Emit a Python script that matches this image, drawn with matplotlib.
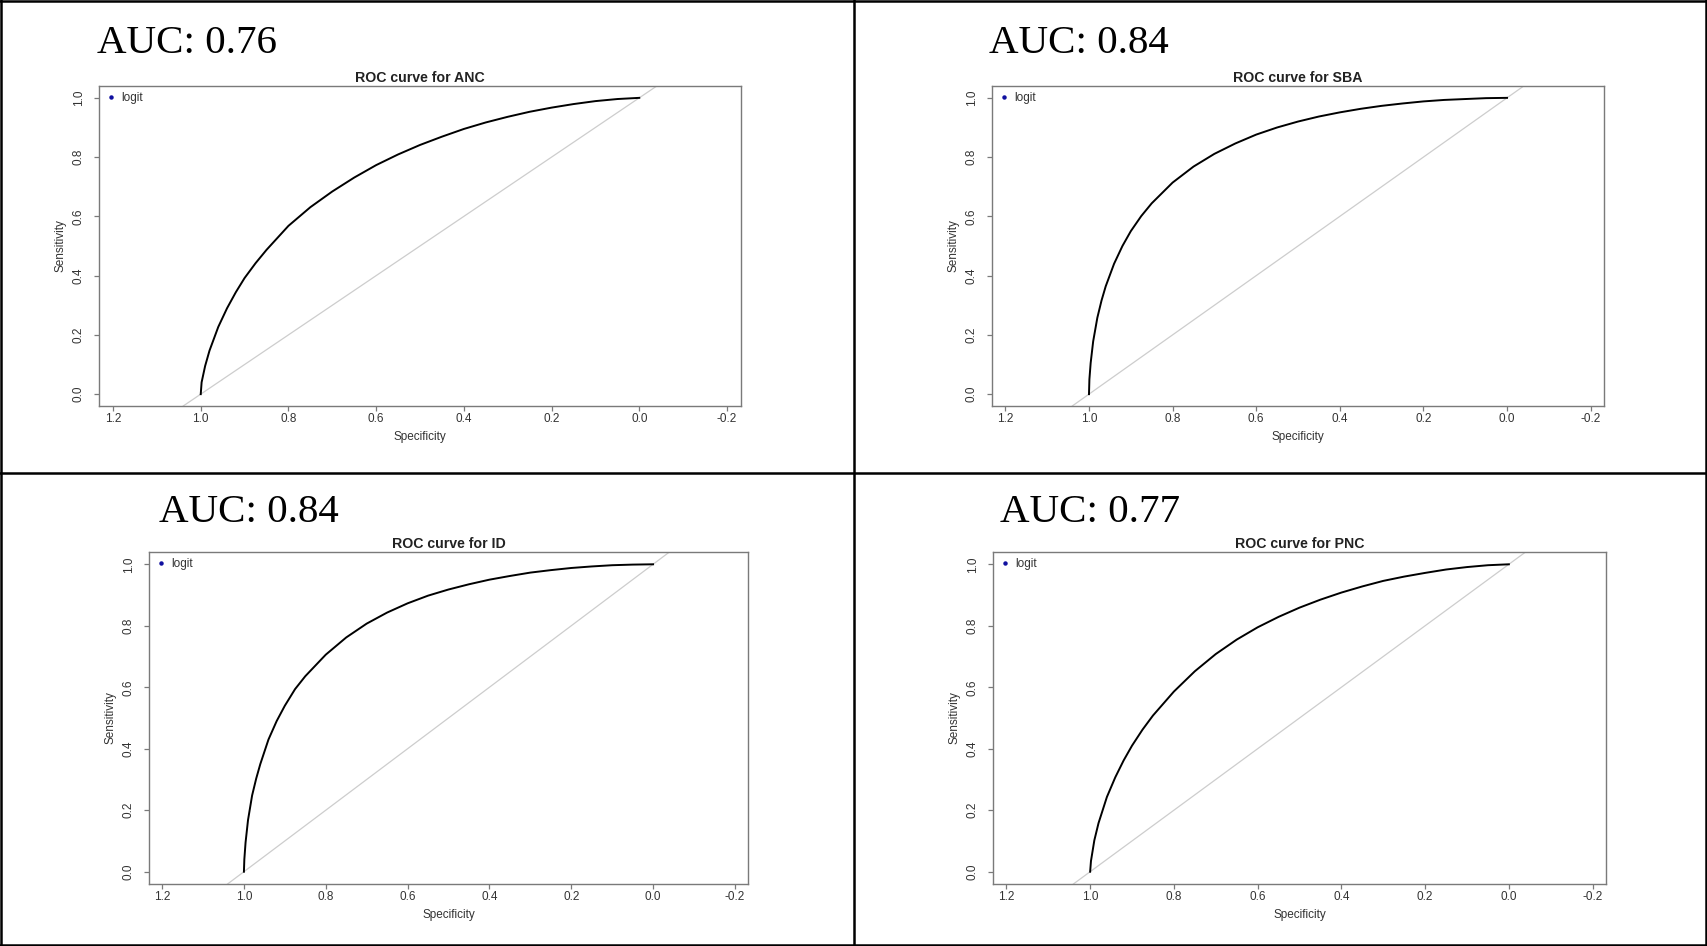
import matplotlib
matplotlib.use("Agg")
import matplotlib.pyplot as plt
from matplotlib.lines import Line2D

plt.rcParams["font.family"] = ["Liberation Sans", "DejaVu Sans"]
plt.rcParams["axes.unicode_minus"] = False

# values (specificity -> sensitivity)
spec_anc = [1.0, 0.998, 0.99, 0.98, 0.96, 0.94, 0.92, 0.90, 0.875, 0.85, 0.80,
            0.75, 0.70, 0.65, 0.60, 0.55, 0.50, 0.45, 0.40, 0.35, 0.30, 0.25,
            0.20, 0.15, 0.10, 0.05, 0.0]
sens_anc = [0.0, 0.04, 0.095, 0.147, 0.227, 0.29, 0.344, 0.392, 0.442, 0.487, 0.568,
            0.631, 0.684, 0.731, 0.773, 0.809, 0.841, 0.869, 0.895, 0.917, 0.936, 0.953,
            0.967, 0.979, 0.989, 0.996, 1.0]

spec_sba = [1.0, 0.999, 0.996, 0.99, 0.98, 0.97, 0.96, 0.94, 0.92, 0.90, 0.875,
            0.85, 0.80, 0.75, 0.70, 0.65, 0.60, 0.55, 0.50, 0.45, 0.40, 0.35,
            0.30, 0.25, 0.20, 0.15, 0.10, 0.05, 0.0]
sens_sba = [0.0, 0.05, 0.105, 0.178, 0.258, 0.316, 0.364, 0.44, 0.50, 0.55, 0.601,
            0.644, 0.714, 0.768, 0.811, 0.846, 0.876, 0.90, 0.92, 0.937, 0.951, 0.963,
            0.973, 0.981, 0.988, 0.993, 0.996, 0.999, 1.0]

spec_id = [1.0, 0.999, 0.996, 0.99, 0.98, 0.97, 0.96, 0.94, 0.92, 0.90, 0.875,
           0.85, 0.80, 0.75, 0.70, 0.65, 0.60, 0.55, 0.50, 0.45, 0.40, 0.35,
           0.30, 0.25, 0.20, 0.15, 0.10, 0.05, 0.0]
sens_id = [0.0, 0.04, 0.095, 0.168, 0.248, 0.303, 0.35, 0.43, 0.49, 0.54, 0.594,
           0.636, 0.706, 0.762, 0.807, 0.843, 0.873, 0.898, 0.918, 0.935, 0.95, 0.962,
           0.973, 0.981, 0.988, 0.993, 0.997, 0.999, 1.0]

spec_pnc = [1.0, 0.998, 0.99, 0.98, 0.96, 0.94, 0.92, 0.90, 0.875, 0.85, 0.80,
            0.75, 0.70, 0.65, 0.60, 0.55, 0.50, 0.45, 0.40, 0.35, 0.30, 0.25,
            0.20, 0.15, 0.10, 0.05, 0.0]
sens_pnc = [0.0, 0.035, 0.102, 0.158, 0.243, 0.307, 0.362, 0.41, 0.462, 0.508, 0.586,
            0.652, 0.708, 0.755, 0.795, 0.829, 0.859, 0.885, 0.908, 0.928, 0.946, 0.96,
            0.972, 0.983, 0.991, 0.997, 1.0]

titles = ["ROC curve for ANC", "ROC curve for SBA", "ROC curve for ID", "ROC curve for PNC"]
auc_labels = ["AUC: 0.76", "AUC: 0.84", "AUC: 0.84", "AUC: 0.77"]
curves = [(spec_anc, sens_anc), (spec_sba, sens_sba), (spec_id, sens_id), (spec_pnc, sens_pnc)]

x_ticks = [1.2, 1.0, 0.8, 0.6, 0.4, 0.2, 0.0, -0.2]
y_ticks = [0.0, 0.2, 0.4, 0.6, 0.8, 1.0]

W, H = 1708, 946
# axes boxes in pixels: left, top, right, bottom
boxes = [(99, 86, 741, 406), (992, 86, 1604, 406),
         (149, 552, 748, 884), (993, 552, 1606, 884)]
auc_pos = [(97, 53), (989, 53), (159, 522.5), (1000, 522.5)]

fig = plt.figure(figsize=(W / 100, H / 100), dpi=100)

grey = "#7a7a7a"
txt = "#333333"

for i in range(4):
    l, t, r, b = boxes[i]
    ax = fig.add_axes([l / W, 1 - b / H, (r - l) / W, (b - t) / H])
    spec, sens = curves[i]
    ax.axline((1, 0), (0, 1), color="#cdcdcd", lw=0.9, zorder=1)
    ax.plot(spec, sens, color="black", lw=1.4, zorder=3)
    ax.set_xlim(1.232, -0.232)
    ax.set_ylim(-0.04, 1.04)
    ax.set_xticks(x_ticks)
    ax.set_xticklabels([f"{v:.1f}" for v in x_ticks])
    ax.set_yticks(y_ticks)
    ax.set_yticklabels([f"{v:.1f}" for v in y_ticks], rotation=90, va="center")
    ax.tick_params(axis="both", colors=grey, labelcolor=txt, labelsize=8.5,
                   length=3.6, width=0.9)
    ax.tick_params(axis="x", pad=1.5)
    ax.tick_params(axis="y", pad=6.5)
    for s in ax.spines.values():
        s.set_color(grey)
        s.set_linewidth(1.0)
    ax.set_xlabel("Specificity", fontsize=8.5, color=txt, labelpad=4)
    ax.set_ylabel("Sensitivity", fontsize=8.5, color=txt, labelpad=5)
    ax.set_title(titles[i], fontsize=10.2, fontweight="bold", color="#222222", pad=3)
    ax.plot([], [], ls="none", marker="o", ms=2.2, color="#1010a0", label="logit")
    ax.legend(loc="upper left", frameon=False, fontsize=8.5, handlelength=1.0,
              handletextpad=0.42, borderaxespad=0.2, borderpad=0.3,
              labelcolor=txt)

    x, y = auc_pos[i]
    fig.text(x / W, 1 - y / H, auc_labels[i], fontsize=29.5,
             family=["Liberation Serif", "DejaVu Serif"], ha="left", va="baseline")

# table borders
def hline(y, x0=0, x1=W):
    fig.add_artist(Line2D([x0 / W, x1 / W], [1 - y / H, 1 - y / H],
                          transform=fig.transFigure, color="black", lw=1.8))

def vline(x, y0=0, y1=H):
    fig.add_artist(Line2D([x / W, x / W], [1 - y0 / H, 1 - y1 / H],
                          transform=fig.transFigure, color="black", lw=1.8))

hline(1.3)
hline(473.5)
hline(944.5)
vline(1.3)
vline(854)
vline(1706.5)

fig.savefig("out.png", dpi=100)
